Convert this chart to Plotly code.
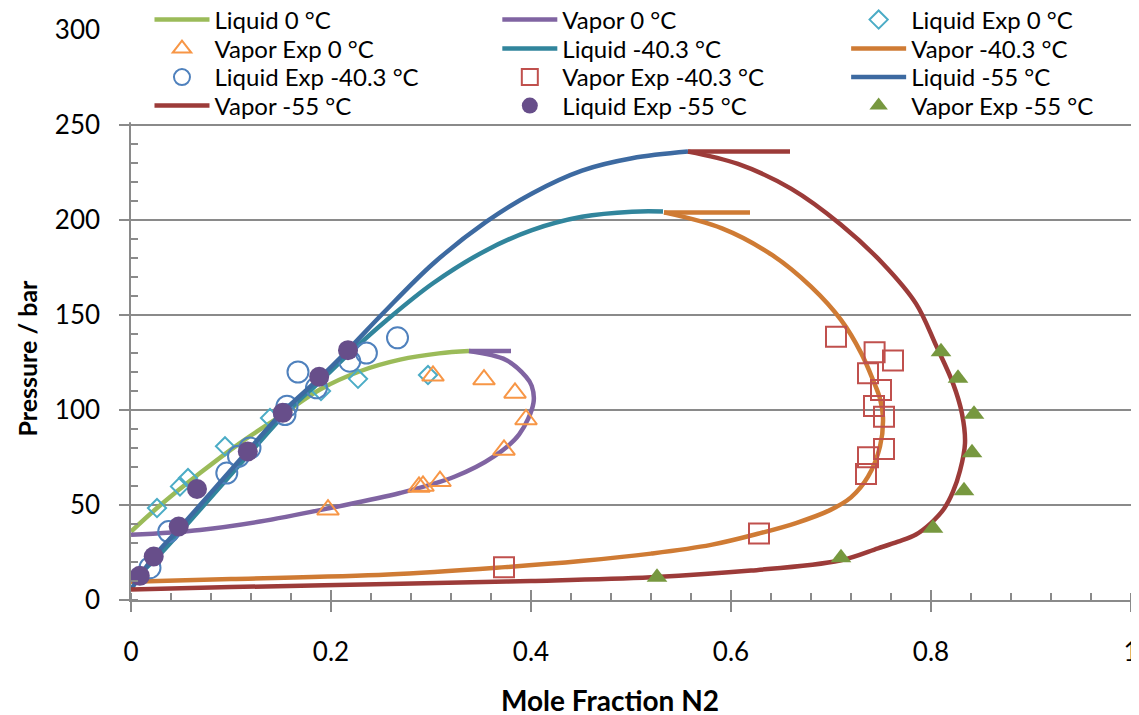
import plotly.graph_objects as go

# ---------------- data ----------------
liq0_x = [0.0, 0.026, 0.069, 0.109, 0.149, 0.189, 0.229, 0.269, 0.308, 0.338]
liq0_y = [36.0, 48.4, 66.8, 82.6, 96.7, 110.8, 120.4, 126.5, 129.8, 131.0]

vap0_x = [0.0, 0.069, 0.129, 0.199, 0.269, 0.324, 0.363, 0.388, 0.4025, 0.4007, 0.395, 0.375, 0.338]
vap0_y = [34.3, 36.9, 41.3, 48.4, 56.3, 65.0, 75.6, 87.0, 103.9, 112.7, 117.5, 126.3, 131.0]
vap0_tail_x = [0.338, 0.38]
vap0_tail_y = [131.0, 131.0]

liqexp0_x = [0.026, 0.049, 0.057, 0.094, 0.139, 0.19, 0.227, 0.297]
liqexp0_y = [48.4, 59.8, 64.2, 80.9, 95.8, 110.0, 116.4, 118.4]

vapexp0_x = [0.197, 0.288, 0.292, 0.309, 0.302, 0.353, 0.384, 0.395, 0.373]
vapexp0_y = [47.5, 59.5, 60.0, 62.5, 118.0, 116.0, 109.0, 95.0, 79.0]

liq40_x = [0.0, 0.027, 0.053, 0.12, 0.156, 0.193, 0.222, 0.255, 0.302, 0.355, 0.401, 0.451, 0.501, 0.532]
liq40_y = [9.6, 23.0, 38.0, 78.0, 99.0, 117.0, 131.6, 147.0, 166.7, 184.0, 194.7, 201.7, 204.4, 204.5]

vap40_x = [0.0, 0.1, 0.257, 0.374, 0.45, 0.52, 0.58, 0.628, 0.665, 0.699, 0.72, 0.737, 0.749,
           0.752, 0.749, 0.742, 0.7303, 0.710, 0.680, 0.641, 0.591, 0.533]
vap40_y = [9.6, 11.0, 13.4, 17.3, 20.5, 24.4, 29.0, 35.0, 40.5, 47.3, 54.0, 64.9, 80.8,
           96.0, 106.0, 115.8, 129.8, 147.4, 164.9, 181.6, 195.6, 204.0]
vap40_tail_x = [0.533, 0.619]
vap40_tail_y = [204.0, 204.0]

liqexp40_x = [0.019, 0.0377, 0.0958, 0.1075, 0.119, 0.154, 0.156, 0.167, 0.1855, 0.2187, 0.2354, 0.2665]
liqexp40_y = [17.0, 36.0, 66.8, 75.6, 80.0, 97.6, 102.0, 120.0, 111.7, 125.7, 130.0, 138.0]

vapexp40_x = [0.373, 0.628, 0.705, 0.7436, 0.762, 0.737, 0.750, 0.743, 0.753, 0.753, 0.737, 0.735]
vapexp40_y = [17.3, 35.0, 138.6, 130.4, 126.0, 119.3, 110.5, 102.1, 96.5, 79.5, 75.1, 66.3]

liq55_x = [0.0, 0.023, 0.049, 0.116, 0.152, 0.189, 0.217, 0.252, 0.302, 0.355, 0.401, 0.451, 0.501, 0.557]
liq55_y = [5.5, 23.0, 38.0, 78.0, 99.0, 117.0, 131.6, 150.9, 177.0, 199.0, 214.0, 226.0, 232.5, 236.0]

vap55_x = [0.0, 0.1, 0.27, 0.4, 0.52, 0.62, 0.709, 0.747, 0.767, 0.785, 0.800, 0.813, 0.822, 0.829,
           0.834, 0.831, 0.822, 0.805, 0.785, 0.752, 0.710, 0.660, 0.607, 0.557]
vap55_y = [5.5, 6.8, 8.5, 10.0, 12.0, 15.5, 20.8, 27.2, 30.7, 34.5, 40.5, 48.0, 57.0, 68.0,
           82.5, 98.0, 114.0, 134.0, 156.0, 177.0, 197.5, 216.5, 229.5, 236.0]
vap55_tail_x = [0.557, 0.659]
vap55_tail_y = [236.0, 236.0]

liqexp55_x = [0.0088, 0.0227, 0.0477, 0.066, 0.1168, 0.1517, 0.1882, 0.217]
liqexp55_y = [12.7, 22.9, 38.7, 58.4, 78.2, 98.5, 117.5, 131.5]

vapexp55_x = [0.526, 0.71, 0.802, 0.833, 0.841, 0.843, 0.827, 0.81]
vapexp55_y = [12.0, 22.3, 37.7, 57.5, 77.5, 97.7, 116.7, 130.7]

y_ticks = [0, 50, 100, 150, 200, 250, 300]

# ---------------- styling / layout ----------------
FONT = "Lato"
LW = 4.5
GRID = "#8A8A8A"
W, H = 1131, 707          # page has an 8 px body margin
ML, MR, MT, MB = 122.5, 8, 22, 115
PW, PH = W - ML - MR, H - MT - MB

# legend grid (3 columns x 4 rows), in paper px
col_left = [141, 489, 838]
row_mid = [12, 41, 69.5, 98]


def legend_pos(i):
    r, c = divmod(i, 3)
    return (col_left[c] - ML) / PW, (H - MB - row_mid[r]) / PH


fig = go.Figure()
legends = {}
n_leg = [0]


def new_legend():
    i = n_leg[0]
    n_leg[0] += 1
    key = "legend" if i == 0 else f"legend{i + 1}"
    x, y = legend_pos(i)
    legends[key] = dict(x=x, y=y, xanchor="left", yanchor="middle", bgcolor="rgba(0,0,0,0)",
                        font=dict(family=FONT, size=24, color="#000000"), itemwidth=55,
                        orientation="v", visible=True)
    return key


def line(name, x, y, color, tail=None):
    leg = new_legend()
    fig.add_trace(go.Scatter(
        x=x, y=y, mode="lines", name=name, legend=leg, legendgroup=name, showlegend=True,
        line=dict(color=color, width=LW, shape="spline", smoothing=1.0)))
    if tail is not None:
        fig.add_trace(go.Scatter(
            x=tail[0], y=tail[1], mode="lines", name=name, legend=leg, legendgroup=name,
            showlegend=False, xaxis="x2",
            line=dict(color=color, width=LW)))


def pts(name, x, y, symbol, color, size, filled=False):
    leg = new_legend()
    if filled:
        marker = dict(symbol=symbol, size=size, color=color, line=dict(width=0))
    else:
        marker = dict(symbol=symbol, size=size, color="rgba(0,0,0,0)",
                      line=dict(color=color, width=2))
    fig.add_trace(go.Scatter(x=x, y=y, mode="markers", name=name, legend=leg,
                             showlegend=True, marker=marker))


line("Liquid 0 °C", liq0_x, liq0_y, "#9BBB59")
line("Vapor 0 °C", vap0_x, vap0_y, "#8064A2", tail=(vap0_tail_x, vap0_tail_y))
pts("Liquid Exp 0 °C", liqexp0_x, liqexp0_y, "diamond", "#4BACC6", 14)
pts("Vapor Exp 0 °C", vapexp0_x, vapexp0_y, "triangle-up", "#F79646", 19)
line("Liquid -40.3 °C", liq40_x, liq40_y, "#31859C")
line("Vapor -40.3 °C", vap40_x, vap40_y, "#CF7B34", tail=(vap40_tail_x, vap40_tail_y))
pts("Liquid Exp -40.3 °C", liqexp40_x, liqexp40_y, "circle", "#4F81BD", 21)
pts("Vapor Exp -40.3 °C", vapexp40_x, vapexp40_y, "square", "#C0504D", 20)
line("Liquid -55 °C", liq55_x, liq55_y, "#3D6AA1")
line("Vapor -55 °C", vap55_x, vap55_y, "#9C3B39", tail=(vap55_tail_x, vap55_tail_y))
pts("Liquid Exp -55 °C", liqexp55_x, liqexp55_y, "circle", "#674E8A", 20, filled=True)
pts("Vapor Exp -55 °C", vapexp55_x, vapexp55_y, "triangle-up", "#77983F", 18, filled=True)

fig.update_layout(
    width=W, height=H, showlegend=True,
    margin=dict(l=ML, r=MR, t=MT, b=MB, autoexpand=False),
    paper_bgcolor="white", plot_bgcolor="white",
    font=dict(family=FONT, color="#000000"),
    **legends,
    xaxis=dict(
        range=[0, 1], dtick=0.2, tick0=0, showgrid=False, zeroline=False,
        showline=True, linecolor=GRID, linewidth=1.5,
        ticks="outside", ticklen=10, tickwidth=1.5, tickcolor=GRID,
        minor=dict(dtick=0.04, ticks="inside", ticklen=7, tickwidth=1.5, tickcolor=GRID, showgrid=False),
        tickfont=dict(family=FONT, size=26), ticklabelstandoff=18, ticklabeloverflow="allow",
    ),
    xaxis2=dict(
        range=[0, 1], overlaying="x", anchor="y", side="bottom", dtick=0.2, tick0=0,
        ticks="inside", ticklen=10, tickwidth=1.5, tickcolor=GRID,
        showticklabels=False, showgrid=False, showline=False, zeroline=False,
    ),
    yaxis=dict(
        range=[0, 300], tickvals=y_ticks, showgrid=True, gridcolor=GRID, gridwidth=1.5,
        zeroline=False, showline=True, linecolor=GRID, linewidth=1.5,
        ticks="outside", ticklen=10, tickwidth=1.5, tickcolor=GRID,
        minor=dict(dtick=10, ticks="inside", ticklen=7, tickwidth=1.5, tickcolor=GRID, showgrid=False),
        tickfont=dict(family=FONT, size=26), ticklabelstandoff=14, ticklabeloverflow="allow",
    ),
    annotations=[
        dict(text="Mole Fraction N2", xref="paper", yref="paper",
             x=(602 - ML) / PW, y=(H - MB - 692) / PH, xanchor="center", yanchor="middle",
             showarrow=False, font=dict(family=FONT, size=28, weight="bold", color="#000000")),
        dict(text="Pressure / bar", xref="paper", yref="paper", textangle=-90,
             x=(18 - ML) / PW, y=(H - MB - 350) / PH, xanchor="center", yanchor="middle",
             showarrow=False, font=dict(family=FONT, size=25, weight="bold", color="#000000")),
    ],
    shapes=[dict(type="rect", xref="paper", yref="paper", x0=-0.012, x1=1.01,
                 y0=251.5 / 300, y1=1.05, fillcolor="white", line=dict(width=0), layer="above")],
)

fig.write_html("out.html")
